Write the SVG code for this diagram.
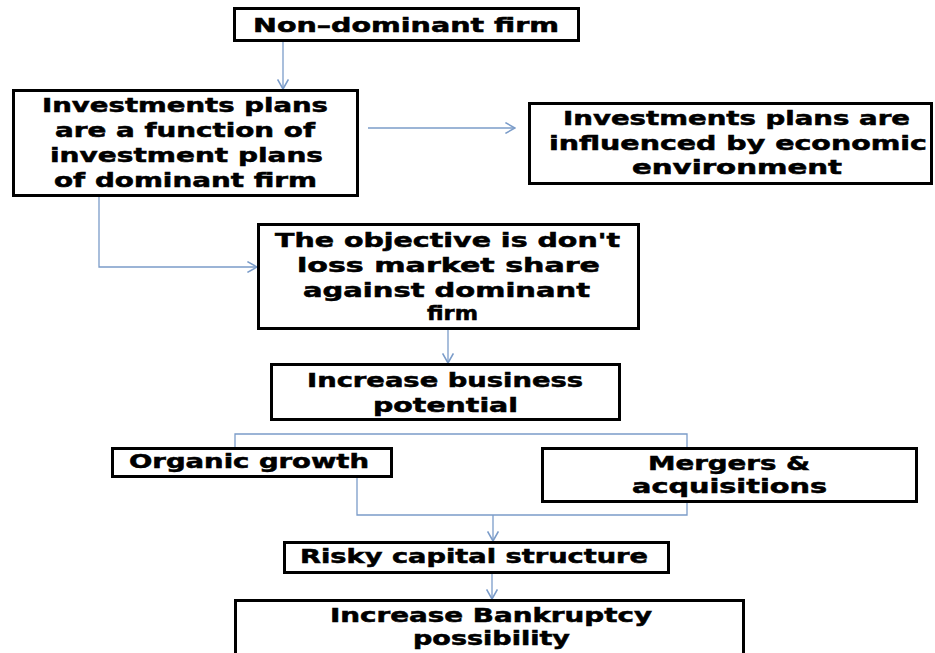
<svg xmlns="http://www.w3.org/2000/svg" width="935" height="653" viewBox="0 0 935 653">
<defs>
<marker id="arr" markerUnits="userSpaceOnUse" markerWidth="12" markerHeight="12" refX="9" refY="5" orient="auto" viewBox="0 0 10 10">
<path d="M1,0.5 L9,5 L1,9.5" fill="none" stroke="#7b9cc9" stroke-width="1.3"/>
</marker>
<style>
.box{fill:#fff;stroke:#000;stroke-width:3}
.t{font-family:"DejaVu Sans","Liberation Sans",Arial,sans-serif;font-weight:bold;font-size:19px;fill:#000;stroke:#000;stroke-width:0.5;text-anchor:middle}
.c{fill:none;stroke:#7b9cc9;stroke-width:1.3}
</style>
</defs>
<rect width="935" height="653" fill="#fff"/>
<g id="connectors">
<path class="c" d="M283,41 V89" marker-end="url(#arr)"/>
<path class="c" d="M368,128 H515" marker-end="url(#arr)"/>
<path class="c" d="M99,197 V267 H257" marker-end="url(#arr)"/>
<path class="c" d="M448,330 V363" marker-end="url(#arr)"/>
<path class="c" d="M235,447 V434 H687 V447"/>
<path class="c" d="M357,478 V515 H687 V503"/>
<path class="c" d="M493,515 V541" marker-end="url(#arr)"/>
<path class="c" d="M492,574 V599" marker-end="url(#arr)"/>
</g>
<g id="n1">
<rect class="box" x="234.5" y="8.5" width="344" height="32"/>
<text class="t" x="406" y="32" textLength="306" lengthAdjust="spacingAndGlyphs">Non–dominant firm</text>
</g>
<g id="n2">
<rect class="box" x="13.5" y="90.5" width="344" height="105"/>
<text class="t" x="185" y="112" textLength="286" lengthAdjust="spacingAndGlyphs">Investments plans</text>
<text class="t" x="185" y="137" textLength="260" lengthAdjust="spacingAndGlyphs">are a function of</text>
<text class="t" x="186.5" y="162" textLength="273" lengthAdjust="spacingAndGlyphs">investment plans</text>
<text class="t" x="185.5" y="187" textLength="263" lengthAdjust="spacingAndGlyphs">of dominant firm</text>
</g>
<g id="n3">
<rect class="box" x="529.5" y="103.5" width="402" height="80"/>
<text class="t" x="736.5" y="125" textLength="347" lengthAdjust="spacingAndGlyphs">Investments plans are</text>
<text class="t" x="738" y="150" textLength="378" lengthAdjust="spacingAndGlyphs">influenced by economic</text>
<text class="t" x="737" y="174" textLength="210" lengthAdjust="spacingAndGlyphs">environment</text>
</g>
<g id="n4">
<rect class="box" x="258.5" y="224.5" width="380" height="104"/>
<text class="t" x="447.5" y="247" textLength="345" lengthAdjust="spacingAndGlyphs">The objective is don't</text>
<text class="t" x="448.5" y="272" textLength="303" lengthAdjust="spacingAndGlyphs">loss market share</text>
<text class="t" x="446.5" y="297" textLength="287" lengthAdjust="spacingAndGlyphs">against dominant</text>
<text class="t" x="452.5" y="320" textLength="51" lengthAdjust="spacingAndGlyphs">firm</text>
</g>
<g id="n5">
<rect class="box" x="271.5" y="364.5" width="348" height="55"/>
<text class="t" x="445" y="387" textLength="276" lengthAdjust="spacingAndGlyphs">Increase business</text>
<text class="t" x="445.5" y="412" textLength="145" lengthAdjust="spacingAndGlyphs">potential</text>
</g>
<g id="n6">
<rect class="box" x="112.5" y="448.5" width="279" height="28"/>
<text class="t" x="249" y="468" textLength="240" lengthAdjust="spacingAndGlyphs">Organic growth</text>
</g>
<g id="n7">
<rect class="box" x="542.5" y="448.5" width="374" height="53"/>
<text class="t" x="729" y="470" textLength="162" lengthAdjust="spacingAndGlyphs">Mergers &amp;</text>
<text class="t" x="729.5" y="493" textLength="195" lengthAdjust="spacingAndGlyphs">acquisitions</text>
</g>
<g id="n8">
<rect class="box" x="284.5" y="542.5" width="384" height="30"/>
<text class="t" x="474" y="563" textLength="348" lengthAdjust="spacingAndGlyphs">Risky capital structure</text>
</g>
<g id="n9">
<rect class="box" x="235.5" y="600.5" width="508" height="70"/>
<text class="t" x="491" y="622" textLength="322" lengthAdjust="spacingAndGlyphs">Increase Bankruptcy</text>
<text class="t" x="491.5" y="645" textLength="157" lengthAdjust="spacingAndGlyphs">possibility</text>
</g>
</svg>
